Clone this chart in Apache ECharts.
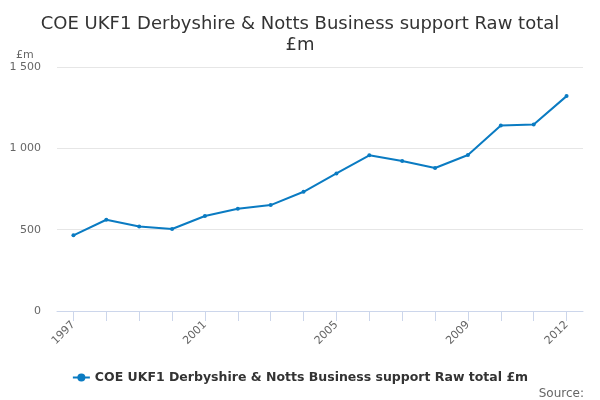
<!DOCTYPE html>
<html>
<head>
<meta charset="utf-8">
<script src="https://cdn.jsdelivr.net/npm/echarts@6/dist/echarts.min.js"></script>
<style>html,body{margin:0;padding:0;background:#fff}#c{width:600px;height:400px}</style>
</head>
<body>
<div id="c"></div>
<script>
var years = ['1997','1998','1999','2000','2001','2002','2003','2004','2005','2006','2007','2008','2009','2010','2011','2012'];
var values = [465, 561, 520, 504, 584, 629, 651, 733, 846, 957, 922, 879, 959, 1141, 1147, 1321];
var shownLabels = ['1997','2001','2005','2009','2012'];
var seriesName = 'COE UKF1 Derbyshire & Notts Business support Raw total £m';
var titleText = 'COE UKF1 Derbyshire & Notts Business support Raw total\n£m';
var unitLabel = '£m';
var sourceText = 'Source:';

var font = 'DejaVu Sans';
var chart = echarts.init(document.getElementById('c'));
chart.setOption({
  animation: false,
  textStyle: {fontFamily: font},
  title: [{
    text: titleText,
    left: 'center', top: 9,
    textStyle: {fontFamily: font, fontSize: 18, fontWeight: 'normal', color: '#333', lineHeight: 21}
  }, {
    text: unitLabel,
    left: 11, top: 45,
    textStyle: {fontFamily: font, fontSize: 11, fontWeight: 'normal', color: '#666'}
  }, {
    text: sourceText,
    right: 11, top: 383,
    textStyle: {fontFamily: font, fontSize: 12, fontWeight: 'normal', color: '#666'}
  }],
  legend: {
    top: 366, left: 'center',
    itemWidth: 17, itemHeight: 10,
    textStyle: {fontFamily: font, fontSize: 12.5, fontWeight: 'bold', color: '#333'},
    data: [seriesName]
  },
  grid: {left: 57, right: 17, top: 67, bottom: 89, containLabel: false},
  xAxis: {
    type: 'category',
    data: years,
    boundaryGap: true,
    axisLine: {lineStyle: {color: '#ccd6eb'}},
    axisTick: {show: true, alignWithLabel: true, interval: 0, length: 10, lineStyle: {color: '#ccd6eb'}},
    axisLabel: {
      interval: function (i, v) { return shownLabels.indexOf(v) >= 0; },
      rotate: 45, color: '#666', fontSize: 11, margin: 12
    }
  },
  yAxis: {
    type: 'value',
    min: 0, max: 1500, interval: 500,
    axisLine: {show: false},
    axisTick: {show: false},
    splitLine: {lineStyle: {color: '#e6e6e6'}},
    axisLabel: {
      color: '#666', fontSize: 11, margin: 16,
      formatter: function (v) { return String(v).replace(/\B(?=(\d{3})+(?!\d))/g, ' '); }
    }
  },
  series: [{
    name: seriesName,
    type: 'line',
    data: values,
    color: '#0a7bc2',
    lineStyle: {width: 2, color: '#0a7bc2'},
    symbol: 'circle',
    symbolSize: 4,
    itemStyle: {color: '#0a7bc2'}
  }]
});
</script>
</body>
</html>
